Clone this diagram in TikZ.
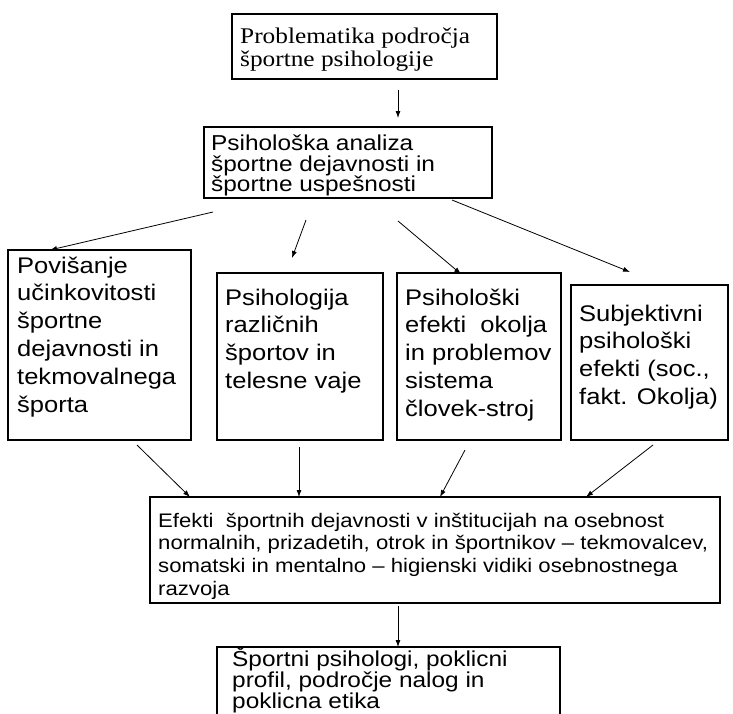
\documentclass[tikz,border=0pt]{standalone}
\usepackage{fontspec}
\setmainfont{Liberation Sans}[FakeStretch=1.13]
\newfontfamily\serifface{Liberation Serif}[FakeStretch=1.13]
\usetikzlibrary{arrows.meta,calc}
\newcommand{\Ln}[1]{\hbox{#1}}
\tikzset{
  boxshape/.style={draw=black, line width=1.1pt, rectangle, inner sep=0pt, outer sep=0pt, anchor=north west},
  txt/.style={inner sep=0pt, anchor=base west},
  conn/.style={draw=black, line width=0.8pt, -{Latex[length=7pt,width=5pt]}},
}
\begin{document}
\begin{tikzpicture}[x=1pt,y=-1pt]
\useasboundingbox (0,0) rectangle (733,713);
\fill[white] (0,0) rectangle (733,713);
% boxes
\node[boxshape, minimum width=265pt, minimum height=65pt] (b1) at (232,14) {};
\node[boxshape, minimum width=288pt, minimum height=71pt] (b2) at (204,127) {};
\node[boxshape, minimum width=183pt, minimum height=190pt] (b3a) at (8,250) {};
\node[boxshape, minimum width=166pt, minimum height=167pt] (b3b) at (217,273) {};
\node[boxshape, minimum width=164pt, minimum height=167pt] (b3c) at (397,273) {};
\node[boxshape, minimum width=157pt, minimum height=155pt] (b3d) at (571,285) {};
\node[boxshape, minimum width=570pt, minimum height=106pt] (b4) at (150,497) {};
\node[boxshape, minimum width=343pt, minimum height=80pt] (b5) at (217,647) {};
% texts
\node[txt, font=\serifface\fontsize{22.4}{23}\selectfont] (t1) at (240,43)
  {\vtop{\Ln{Problematika področja}\Ln{športne psihologije}}};
\node[txt, font=\fontsize{21.6}{20.5}\selectfont] (t2) at (211,150.5)
  {\vtop{\Ln{Psihološka analiza}\Ln{športne dejavnosti in}\Ln{športne uspešnosti}}};
\node[txt, font=\fontsize{22.6}{27.8}\selectfont] (t3a) at (17,273)
  {\vtop{\Ln{Povišanje}\Ln{učinkovitosti}\Ln{športne}\Ln{dejavnosti in}\Ln{tekmovalnega}\Ln{športa}}};
\node[txt, font=\fontsize{22.6}{27.8}\selectfont] (t3b) at (225,305)
  {\vtop{\Ln{Psihologija}\Ln{različnih}\Ln{športov in}\Ln{telesne vaje}}};
\node[txt, font=\fontsize{22.6}{27.8}\selectfont] (t3c) at (405,305)
  {\vtop{\Ln{Psihološki}\Ln{efekti\ \ okolja}\Ln{in problemov}\Ln{sistema}\Ln{človek-stroj}}};
\node[txt, font=\fontsize{22.6}{27.8}\selectfont] (t3d) at (579,321)
  {\vtop{\Ln{Subjektivni}\Ln{psihološki}\Ln{efekti (soc.,}\Ln{fakt. Okolja)}}};
\node[txt, font=\fontsize{19.6}{22.8}\selectfont] (t4) at (158,527)
  {\vtop{\Ln{Efekti\ \ športnih dejavnosti v inštitucijah na osebnost}\Ln{normalnih, prizadetih, otrok in športnikov – tekmovalcev,}\Ln{somatski in mentalno – higienski vidiki osebnostnega}\Ln{razvoja}}};
\node[txt, font=\fontsize{21.6}{18.6}\selectfont] (t5) at (232,666)
  {\vtop{\Ln{Športni psihologi, poklicni}\Ln{profil, področje nalog in}\Ln{poklicna etika}}};
% connector start points
\coordinate (s1) at (398,90);
\coordinate (s2a) at (213,212);
\coordinate (s2b) at (306,220);
\coordinate (s2c) at (398,221);
\coordinate (s2d) at (452,200);
\coordinate (s3a) at (137,445);
\coordinate (s3b) at (299,447);
\coordinate (s3c) at (465,450);
\coordinate (s3d) at (653,445);
\coordinate (s4) at (398,606);
% connectors
\draw[conn] (s1) -- ($(b2.north west)+(194,-9)$) coordinate (e1);
\draw[conn] (s2a) -- ($(b3a.north west)+(42,0)$) coordinate (e2a);
\draw[conn] (s2b) -- ($(b3b.north west)+(75,-15)$) coordinate (e2b);
\draw[conn] (s2c) -- ($(b3c.north west)+(64,1)$) coordinate (e2c);
\draw[conn] (s2d) -- ($(b3d.north west)+(59,-13)$) coordinate (e2d);
\draw[conn] (s3a) -- ($(b4.north west)+(40,0)$) coordinate (e3a);
\draw[conn] (s3b) -- ($(b4.north west)+(149,0)$) coordinate (e3b);
\draw[conn] (s3c) -- ($(b4.north west)+(290,0)$) coordinate (e3c);
\draw[conn] (s3d) -- ($(b4.north west)+(436,0)$) coordinate (e3d);
\draw[conn] (s4) -- ($(b5.north west)+(181,0)$) coordinate (e4);
\end{tikzpicture}
\end{document}
